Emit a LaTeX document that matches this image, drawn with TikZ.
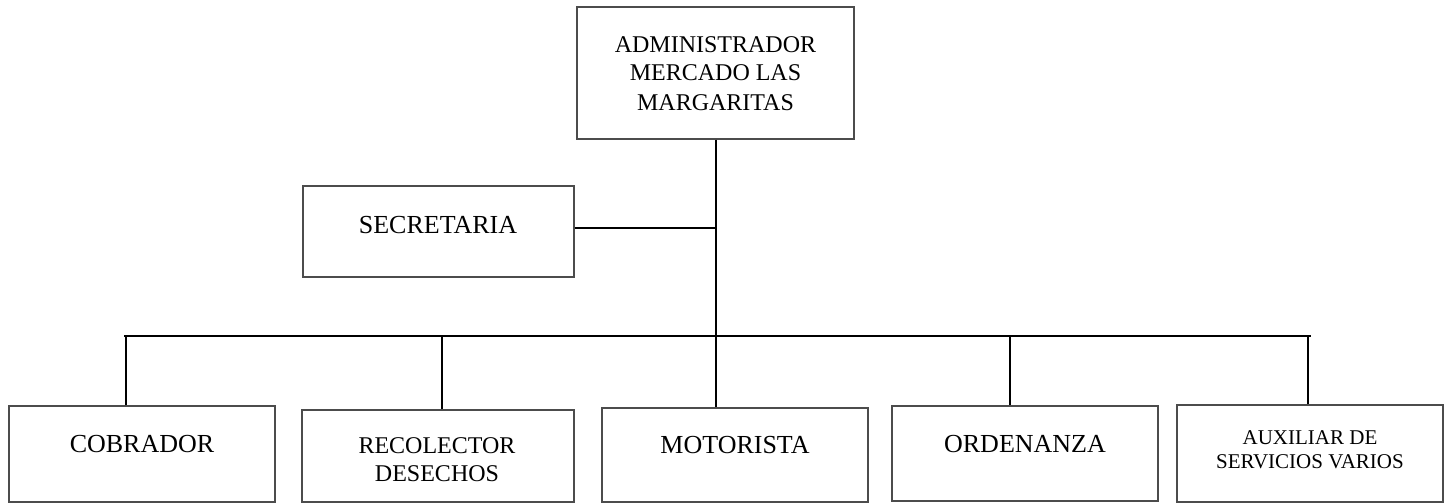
\documentclass[tikz,border=0pt]{standalone}
\usepackage{fontspec}
\setmainfont{Liberation Serif}
\begin{document}
\begin{tikzpicture}[x=1pt,y=-1pt,
  box/.style={draw=black!70, line width=1.1pt, inner sep=0pt},
  conn/.style={draw=black, line width=2pt},
  lbl/.style={align=center, inner sep=0pt, anchor=base},
  big/.style={font=\fontsize{26}{30}\selectfont},
  mid/.style={font=\fontsize{24}{28}\selectfont},
  small/.style={font=\fontsize{21}{24}\selectfont}]
\useasboundingbox[fill=white] (0,0) rectangle (1450,503);
% boxes
\node[box, minimum width=277, minimum height=132] (adm) at (715.5,73) {};
\node[box, minimum width=271, minimum height=91] (sec) at (438.5,231.5) {};
\node[box, minimum width=266, minimum height=96] (cob) at (142,454) {};
\node[box, minimum width=272, minimum height=92] (rec) at (438,456) {};
\node[box, minimum width=266, minimum height=94] (mot) at (735,455) {};
\node[box, minimum width=266, minimum height=95] (ord) at (1025,453.5) {};
\node[box, minimum width=266, minimum height=97] (aux) at (1310,453.5) {};
% labels (multi-line labels: base = baseline of last line)
\node[lbl, font=\fontsize{24}{29}\selectfont] (admT) at (715.5,110) {ADMINISTRADOR\\MERCADO LAS\\MARGARITAS};
\node[lbl, big] (secT) at (438,233) {SECRETARIA};
\node[lbl, big] (cobT) at (142,452) {COBRADOR};
\node[lbl, mid] (recT) at (437,481) {RECOLECTOR\\DESECHOS};
\node[lbl, big] (motT) at (735,453) {MOTORISTA};
\node[lbl, big] (ordT) at (1025,452) {ORDENANZA};
\node[lbl, small] (auxT) at (1310,468) {AUXILIAR DE\\SERVICIOS VARIOS};
% connectors
\coordinate (busL) at (124,336);
\coordinate (busR) at (1311,336);
\draw[conn] (adm.south) -- (adm.south |- mot.north);
\draw[conn] ([yshift=3.5pt]sec.east) -- ([yshift=3.5pt]sec.east -| adm.south);
\draw[conn] (busL) -- (busR);
\draw[conn] ([xshift=-16pt]cob.north) -- ([xshift=-16pt]cob.north |- busL);
\draw[conn] ([xshift=4pt]rec.north) -- ([xshift=4pt]rec.north |- busL);
\draw[conn] ([xshift=-15pt]ord.north) -- ([xshift=-15pt]ord.north |- busL);
\draw[conn] ([xshift=-2pt]aux.north) -- ([xshift=-2pt]aux.north |- busL);
\end{tikzpicture}
\end{document}
